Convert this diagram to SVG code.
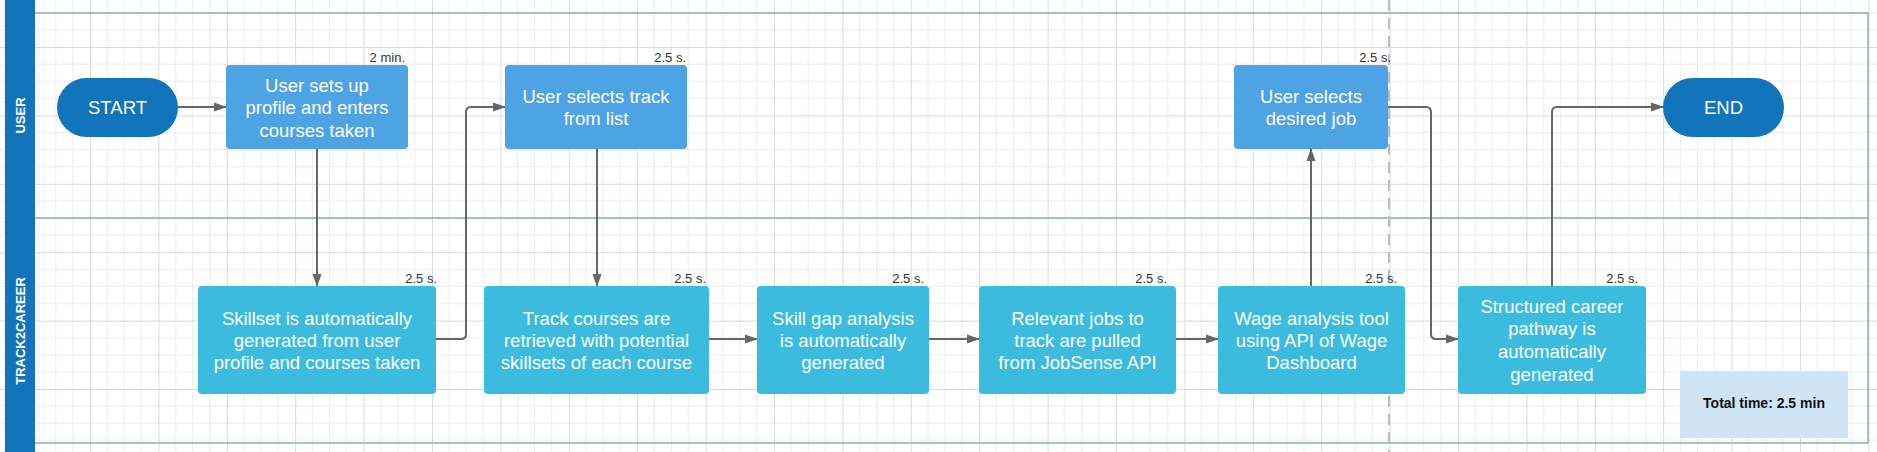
<svg xmlns="http://www.w3.org/2000/svg" width="1877" height="452" viewBox="0 0 1877 452">
<defs>
<pattern id="grid" patternUnits="userSpaceOnUse" x="21.6" y="47" width="68.4" height="68.4">
<path d="M17.1 0V68.4M34.2 0V68.4M51.3 0V68.4M0 17.1H68.4M0 34.2H68.4M0 51.3H68.4" stroke="#ececec" stroke-width="1" fill="none"/>
<path d="M0.5 0V68.4M0 0.5H68.4" stroke="#dadada" stroke-width="1" fill="none"/>
</pattern>
<marker id="arr" markerUnits="userSpaceOnUse" markerWidth="13" markerHeight="10" refX="12" refY="5" orient="auto">
<path d="M0 0.5L13 5L0 9.5z" fill="#666"/>
</marker>
<style>
.lane{stroke:#86b3a8;stroke-width:1.5;fill:none}
.band{fill:#1474bb}
.bandtxt{font-family:"Liberation Sans",Arial,sans-serif;font-weight:bold;font-size:13px;fill:#fff;text-anchor:middle}
.term{fill:#1274bb}
.user{fill:#4ea3e5}
.sys{fill:#3bbcdf}
.txt{font-family:"Liberation Sans",Arial,sans-serif;font-size:18.5px;fill:#fff;text-anchor:middle}
.time{font-family:"Liberation Sans",Arial,sans-serif;font-size:13px;fill:#333;text-anchor:end}
.con{stroke:#666;stroke-width:2;fill:none}
</style>
</defs>
<rect width="1877" height="452" fill="#fff"/>
<rect width="1877" height="452" fill="url(#grid)"/>
<g id="lanes">
<path class="lane" d="M35 13H1868V443H35M35 218H1868"/>
<line x1="1389" y1="0" x2="1389" y2="452" stroke="#bdbdbd" stroke-width="2" stroke-dasharray="11 7"/>
<rect class="band" x="5" y="0" width="30" height="452"/>
<text class="bandtxt" transform="translate(25 115.5) rotate(-90)">USER</text>
<text class="bandtxt" transform="translate(25 331) rotate(-90)">TRACK2CAREER</text>
</g>
<g id="connectors">
<path class="con" marker-end="url(#arr)" d="M178 107H226"/>
<path class="con" marker-end="url(#arr)" d="M317 149V286"/>
<path class="con" marker-end="url(#arr)" d="M436 339H461Q466 339 466 334V112Q466 107 471 107H505"/>
<path class="con" marker-end="url(#arr)" d="M597 149V286"/>
<path class="con" marker-end="url(#arr)" d="M709 339H757"/>
<path class="con" marker-end="url(#arr)" d="M929 339H979"/>
<path class="con" marker-end="url(#arr)" d="M1176 339H1218"/>
<path class="con" marker-end="url(#arr)" d="M1311 286V149"/>
<path class="con" marker-end="url(#arr)" d="M1388 107H1426Q1431 107 1431 112V334Q1431 339 1436 339H1458"/>
<path class="con" marker-end="url(#arr)" d="M1552 286V112Q1552 107 1557 107H1663"/>
</g>
<g id="start">
<rect class="term" x="57" y="78" width="121" height="59" rx="29.5"/>
<text class="txt" x="117.5" y="114">START</text>
</g>
<g id="end">
<rect class="term" x="1663" y="78" width="121" height="59" rx="29.5"/>
<text class="txt" x="1723.5" y="114">END</text>
</g>
<g id="n1">
<rect class="user" x="226" y="65" width="182" height="84" rx="4"/>
<text class="time" x="405" y="62">2 min.</text>
<text class="txt" x="317" y="91.5">User sets up</text>
<text class="txt" x="317" y="114">profile and enters</text>
<text class="txt" x="317" y="136.5">courses taken</text>
</g>
<g id="n2">
<rect class="user" x="505" y="65" width="182" height="84" rx="4"/>
<text class="time" x="686" y="62">2.5 s.</text>
<text class="txt" x="596" y="103">User selects track</text>
<text class="txt" x="596" y="125">from list</text>
</g>
<g id="n3">
<rect class="user" x="1234" y="65" width="154" height="84" rx="4"/>
<text class="time" x="1391" y="62">2.5 s.</text>
<text class="txt" x="1311" y="103">User selects</text>
<text class="txt" x="1311" y="125">desired job</text>
</g>
<g id="b1">
<rect class="sys" x="198" y="286" width="238" height="108" rx="4"/>
<text class="time" x="437" y="283">2.5 s.</text>
<text class="txt" x="317" y="324.5">Skillset is automatically</text>
<text class="txt" x="317" y="346.5">generated from user</text>
<text class="txt" x="317" y="368.5">profile and courses taken</text>
</g>
<g id="b2">
<rect class="sys" x="484" y="286" width="225" height="108" rx="4"/>
<text class="time" x="706" y="283">2.5 s.</text>
<text class="txt" x="596.5" y="324.5">Track courses are</text>
<text class="txt" x="596.5" y="346.5">retrieved with potential</text>
<text class="txt" x="596.5" y="368.5">skillsets of each course</text>
</g>
<g id="b3">
<rect class="sys" x="757" y="286" width="172" height="108" rx="4"/>
<text class="time" x="924" y="283">2.5 s.</text>
<text class="txt" x="843" y="324.5">Skill gap analysis</text>
<text class="txt" x="843" y="346.5">is automatically</text>
<text class="txt" x="843" y="368.5">generated</text>
</g>
<g id="b4">
<rect class="sys" x="979" y="286" width="197" height="108" rx="4"/>
<text class="time" x="1167" y="283">2.5 s.</text>
<text class="txt" x="1077.5" y="324.5">Relevant jobs to</text>
<text class="txt" x="1077.5" y="346.5">track are pulled</text>
<text class="txt" x="1077.5" y="368.5">from JobSense API</text>
</g>
<g id="b5">
<rect class="sys" x="1218" y="286" width="187" height="108" rx="4"/>
<text class="time" x="1397" y="283">2.5 s.</text>
<text class="txt" x="1311.5" y="324.5">Wage analysis tool</text>
<text class="txt" x="1311.5" y="346.5">using API of Wage</text>
<text class="txt" x="1311.5" y="368.5">Dashboard</text>
</g>
<g id="b6">
<rect class="sys" x="1458" y="286" width="188" height="108" rx="4"/>
<text class="time" x="1638" y="283">2.5 s.</text>
<text class="txt" x="1552" y="312.5">Structured career</text>
<text class="txt" x="1552" y="335">pathway is</text>
<text class="txt" x="1552" y="358">automatically</text>
<text class="txt" x="1552" y="380.5">generated</text>
</g>
<g id="total">
<rect x="1680" y="371" width="168" height="67" fill="#cfe5f6"/>
<text x="1764" y="408" font-family="Liberation Sans, Arial, sans-serif" font-weight="bold" font-size="14px" fill="#111" text-anchor="middle">Total time: 2.5 min</text>
</g>
</svg>
